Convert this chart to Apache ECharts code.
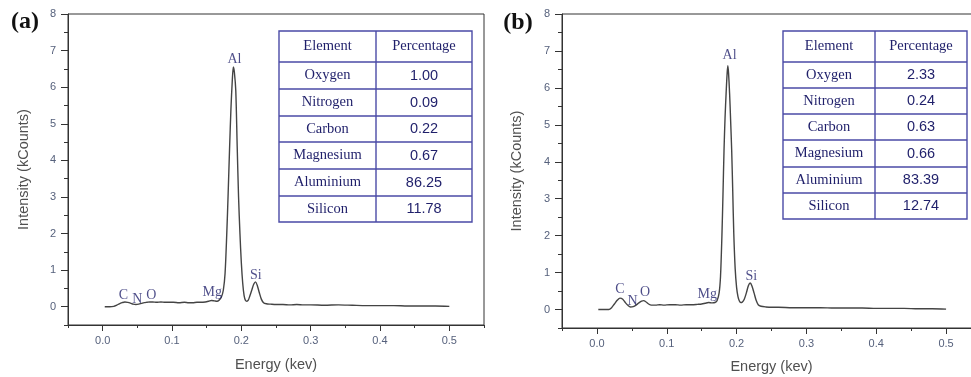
<!DOCTYPE html>
<html>
<head>
<meta charset="utf-8">
<script src="https://cdn.jsdelivr.net/npm/echarts@6/dist/echarts.min.js"></script>
<style>
html, body { margin: 0; padding: 0; background: #fff; }
#eds { width: 971px; height: 377px; }
</style>
</head>
<body>
<div id="eds"></div>
<script>
// spectrum (a)
var energyA = [0.003, 0.010, 0.016, 0.020, 0.024, 0.028, 0.032, 0.036, 0.040, 0.044, 0.048, 0.052, 0.056, 0.060,
    0.064, 0.068, 0.072, 0.078, 0.084, 0.090, 0.096, 0.102, 0.110, 0.118, 0.124, 0.130, 0.136, 0.142, 0.148,
    0.153, 0.157, 0.161, 0.165, 0.168, 0.171, 0.174, 0.1765, 0.179, 0.181, 0.183, 0.185, 0.187, 0.1885, 0.190,
    0.192, 0.194, 0.196, 0.198, 0.200, 0.202, 0.204, 0.206, 0.208, 0.210, 0.212, 0.215, 0.218, 0.2205, 0.223,
    0.226, 0.229, 0.232, 0.236, 0.242, 0.250, 0.260, 0.270, 0.280, 0.290, 0.300, 0.320, 0.340, 0.360, 0.380,
    0.400, 0.420, 0.440, 0.460, 0.480, 0.500];
var countsA = [0.00, 0.00, 0.01, 0.04, 0.08, 0.11, 0.13, 0.12, 0.10, 0.07, 0.06, 0.07, 0.09, 0.11,
    0.12, 0.13, 0.13, 0.12, 0.13, 0.12, 0.12, 0.12, 0.11, 0.12, 0.11, 0.11, 0.12, 0.12, 0.13,
    0.15, 0.17, 0.16, 0.15, 0.18, 0.25, 0.45, 0.9, 2.0, 3.1, 4.3, 5.4, 6.2, 6.55, 6.4,
    5.9, 4.4, 3.0, 2.0, 1.2, 0.64, 0.3, 0.17, 0.15, 0.18, 0.28, 0.45, 0.62, 0.68, 0.58,
    0.38, 0.20, 0.11, 0.08, 0.07, 0.06, 0.06, 0.05, 0.06, 0.05, 0.05, 0.04, 0.05, 0.04, 0.03,
    0.03, 0.03, 0.02, 0.02, 0.02, 0.01];

// spectrum (b)
var energyB = [0.002, 0.010, 0.017, 0.021, 0.025, 0.029, 0.033, 0.037, 0.041, 0.045, 0.048, 0.052, 0.056, 0.060,
    0.064, 0.067, 0.070, 0.074, 0.078, 0.084, 0.090, 0.096, 0.104, 0.112, 0.120, 0.128, 0.136, 0.144, 0.150,
    0.155, 0.160, 0.165, 0.169, 0.172, 0.175, 0.177, 0.179, 0.1805, 0.182, 0.1835, 0.185, 0.1865, 0.1875, 0.1885,
    0.190, 0.1915, 0.193, 0.1945, 0.196, 0.198, 0.200, 0.202, 0.204, 0.206, 0.208, 0.211, 0.214, 0.217, 0.2195,
    0.222, 0.225, 0.228, 0.231, 0.235, 0.242, 0.250, 0.260, 0.280, 0.300, 0.320, 0.340, 0.360, 0.380, 0.400,
    0.420, 0.440, 0.460, 0.480, 0.500];
var countsB = [0.00, 0.00, 0.00, 0.05, 0.15, 0.25, 0.31, 0.28, 0.18, 0.10, 0.07, 0.08, 0.12, 0.18,
    0.23, 0.24, 0.21, 0.15, 0.12, 0.12, 0.13, 0.12, 0.13, 0.13, 0.12, 0.13, 0.13, 0.14, 0.15,
    0.17, 0.19, 0.18, 0.19, 0.24, 0.45, 0.9, 2.0, 3.1, 4.3, 5.2, 5.85, 6.4, 6.6, 6.4,
    5.85, 5.1, 4.3, 3.2, 2.05, 1.1, 0.6, 0.35, 0.23, 0.19, 0.20, 0.28, 0.45, 0.65, 0.72,
    0.64, 0.45, 0.25, 0.13, 0.09, 0.07, 0.06, 0.06, 0.05, 0.05, 0.05, 0.04, 0.04, 0.04, 0.03,
    0.03, 0.03, 0.02, 0.02, 0.01];

// peak labels
var peakNames = ['C', 'N', 'O', 'Mg', 'Al', 'Si'];
var peakXA = [0.030, 0.050, 0.070, 0.158, 0.190, 0.221];
var peakYA = [0.32, 0.21, 0.31, 0.38, 6.75, 0.87];
var peakXB = [0.033, 0.051, 0.069, 0.158, 0.190, 0.221];
var peakYB = [0.56, 0.23, 0.46, 0.41, 6.87, 0.90];

// composition tables
var tableHead = ['Element', 'Percentage'];
var elements = ['Oxygen', 'Nitrogen', 'Carbon', 'Magnesium', 'Aluminium', 'Silicon'];
var percentA = ['1.00', '0.09', '0.22', '0.67', '86.25', '11.78'];
var percentB = ['2.33', '0.24', '0.63', '0.66', '83.39', '12.74'];

// axis ticks
var xMajor = [0, 0.1, 0.2, 0.3, 0.4, 0.5];
var xMinor = [-0.05, 0.05, 0.15, 0.25, 0.35, 0.45, 0.55];
var yMajor = [0, 1, 2, 3, 4, 5, 6, 7, 8];
var yMinor = [-0.5, 0.5, 1.5, 2.5, 3.5, 4.5, 5.5, 6.5, 7.5];

var lblColor = '#56617c';
var navy = '#1f1f6a';
var tableLine = '#4a4aa6';
var sans = 'Liberation Sans, Arial, sans-serif';
var serif = 'Liberation Serif, Times New Roman, serif';

function zip(xs, ys) {
    var out = [];
    for (var i = 0; i < xs.length; i++) out.push([xs[i], ys[i]]);
    return out;
}

function peakData(xs, ys) {
    var out = [];
    for (var i = 0; i < xs.length; i++) out.push({ name: peakNames[i], value: [xs[i], ys[i]] });
    return out;
}

function xAxes(gi, gap) {
    return [{
        gridIndex: gi, type: 'value', min: -0.05, max: 0.55,
        name: 'Energy (kev)', nameLocation: 'middle', nameGap: gap,
        nameTextStyle: { fontFamily: sans, fontSize: 14.5, color: '#505050' },
        axisLine: { onZero: false, lineStyle: { color: '#333', width: 1 } },
        axisTick: { customValues: xMajor, length: 6, inside: false, lineStyle: { color: '#333' } },
        axisLabel: { customValues: xMajor, margin: 10, fontFamily: sans, fontSize: 11, color: lblColor,
            formatter: function (v) { return v.toFixed(1); } },
        splitLine: { show: false }
    }, {
        gridIndex: gi, type: 'value', min: -0.05, max: 0.55, position: 'bottom',
        axisLine: { show: false, onZero: false },
        axisTick: { customValues: xMinor, length: 3, lineStyle: { color: '#333' } },
        axisLabel: { show: false }, splitLine: { show: false }
    }];
}

function yAxes(gi, gap) {
    return [{
        gridIndex: gi, type: 'value', min: -0.5, max: 8,
        name: 'Intensity (kCounts)', nameLocation: 'middle', nameGap: gap,
        nameTextStyle: { fontFamily: sans, fontSize: 14.5, color: '#505050' },
        axisLine: { show: true, onZero: false, lineStyle: { color: '#333', width: 1 } },
        axisTick: { show: true, customValues: yMajor, length: 7, lineStyle: { color: '#333' } },
        axisLabel: { customValues: yMajor, margin: 12, fontFamily: sans, fontSize: 11, color: lblColor },
        splitLine: { show: false }
    }, {
        gridIndex: gi, type: 'value', min: -0.5, max: 8, position: 'left',
        axisLine: { show: false, onZero: false },
        axisTick: { show: true, customValues: yMinor, length: 4, lineStyle: { color: '#333' } },
        axisLabel: { show: false }, splitLine: { show: false }
    }];
}

function tableGraphic(x0, x1, xd, rows, values) {
    var g = [];
    var st = { stroke: tableLine, lineWidth: 1.4 };
    g.push({ type: 'rect', shape: { x: x0, y: rows[0], width: x1 - x0, height: rows[rows.length - 1] - rows[0] },
        style: { fill: '#fff', stroke: tableLine, lineWidth: 1.4 }, z: 10 });
    g.push({ type: 'line', shape: { x1: xd, y1: rows[0], x2: xd, y2: rows[rows.length - 1] }, style: st, z: 11 });
    for (var i = 1; i < rows.length - 1; i++) {
        g.push({ type: 'line', shape: { x1: x0, y1: rows[i], x2: x1, y2: rows[i] }, style: st, z: 11 });
    }
    var cl = (x0 + xd) / 2, cr = (xd + x1) / 2;
    for (var r = 0; r < rows.length - 1; r++) {
        var cy = (rows[r] + rows[r + 1]) / 2;
        var left = r === 0 ? tableHead[0] : elements[r - 1];
        var right = r === 0 ? tableHead[1] : values[r - 1];
        g.push({ type: 'text', x: cl, y: cy, z: 12,
            style: { text: left, font: '14.5px ' + serif, fill: navy, align: 'center', verticalAlign: 'middle' } });
        g.push({ type: 'text', x: cr, y: cy, z: 12,
            style: { text: right, font: (r === 0 ? '14.5px ' + serif : '14.5px ' + sans), fill: navy,
                align: 'center', verticalAlign: 'middle' } });
    }
    return g;
}

function peakSeries(xi, yi, data) {
    return {
        type: 'scatter', xAxisIndex: xi, yAxisIndex: yi, data: data,
        symbolSize: 2, itemStyle: { color: 'rgba(0,0,0,0)' }, silent: true, z: 5,
        label: { show: true, position: 'inside', formatter: '{b}',
            fontFamily: serif, fontSize: 14, color: navy }
    };
}

var myChart = echarts.init(document.getElementById('eds'), null, { renderer: 'canvas' });

var graphic = [
    { type: 'text', x: 25, y: 22, style: { text: '(a)', font: 'bold 24px ' + serif, fill: '#111', align: 'center', verticalAlign: 'middle' } },
    { type: 'text', x: 518, y: 23, style: { text: '(b)', font: 'bold 24px ' + serif, fill: '#111', align: 'center', verticalAlign: 'middle' } }
];
graphic = graphic.concat(tableGraphic(279, 472, 376, [31, 62, 89, 116, 142, 169, 196, 222], percentA));
graphic = graphic.concat(tableGraphic(783, 967, 875, [31, 62, 88, 114, 140, 167, 193, 219], percentB));

option = {
    animation: false,
    backgroundColor: '#fff',
    grid: [
        { left: 68, top: 14, width: 416, height: 311, show: true, borderColor: '#333', borderWidth: 1,
            outerBoundsMode: 'none' },
        { left: 562, top: 14, width: 419, height: 314, show: true, borderColor: '#333', borderWidth: 1,
            outerBoundsMode: 'none' }
    ],
    xAxis: xAxes(0, 32).concat(xAxes(1, 31)),
    yAxis: yAxes(0, 37).concat(yAxes(1, 38)),
    graphic: graphic,
    series: [
        { type: 'line', xAxisIndex: 0, yAxisIndex: 0, data: zip(energyA, countsA), showSymbol: false,
            smooth: 0.3, lineStyle: { color: '#444', width: 1.4 } },
        { type: 'line', xAxisIndex: 2, yAxisIndex: 2, data: zip(energyB, countsB), showSymbol: false,
            smooth: 0.3, lineStyle: { color: '#444', width: 1.4 } },
        peakSeries(0, 0, peakData(peakXA, peakYA)),
        peakSeries(2, 2, peakData(peakXB, peakYB))
    ]
};

myChart.setOption(option);
</script>
</body>
</html>
